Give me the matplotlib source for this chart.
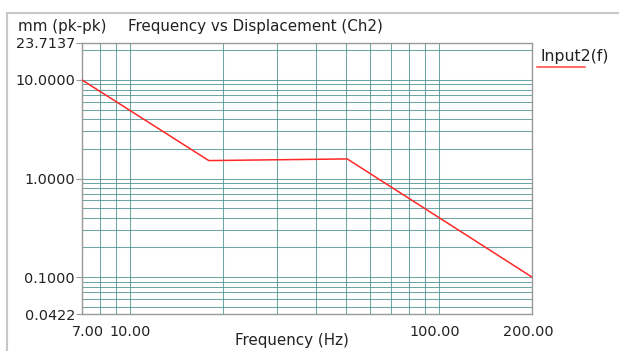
import matplotlib
matplotlib.use("Agg")
import matplotlib.pyplot as plt
from matplotlib.ticker import FixedLocator, NullFormatter, LogLocator
from matplotlib.lines import Line2D
from matplotlib.patches import Rectangle
import matplotlib.transforms as mtrans

# ---- data ----
freq_hz = [7.0, 18.0, 30.0, 50.5, 200.0]
disp_mm = [10.0, 1.52, 1.55, 1.58, 0.10]
series_name = "Input2(f)"

x_ticks = [7.0, 10.0, 100.0, 200.0]
x_tick_labels = ["7.00", "10.00", "100.00", "200.00"]
y_ticks = [0.0422, 0.1, 1.0, 10.0, 23.7137]
y_tick_labels = ["0.0422", "0.1000", "1.0000", "10.0000", "23.7137"]
x_lim = (7.0, 200.0)
y_lim = (0.0422, 23.7137)

W, H = 619, 351
fig = plt.figure(figsize=(W / 100, H / 100), dpi=100)
plt.rcParams['font.family'] = ['DejaVu Sans']
FS = 10.4
FS_T = 10.9
TXT = '#222222'

def fx(px):
    return px / W

def fy(py):
    return 1 - py / H

# outer panel border
fig.patches.append(Rectangle((fx(7), fy(360)), fx(700), fy(13) - fy(360),
                             transform=fig.transFigure, fill=False,
                             edgecolor='#c8c8c8', linewidth=1.5))

L, R, T, B = 82, 532, 43, 314
ax = fig.add_axes([fx(L), fy(B), fx(R - L), fy(T) - fy(B)])
ax.set_xscale('log')
ax.set_yscale('log')
ax.set_xlim(*x_lim)
ax.set_ylim(*y_lim)

ax.plot(freq_hz, disp_mm, color='#ff2828', linewidth=1.1, zorder=3)

ax.xaxis.set_major_locator(FixedLocator(x_ticks))
ax.xaxis.set_ticklabels(x_tick_labels)
ax.xaxis.set_minor_locator(LogLocator(base=10, subs=range(2, 10), numticks=20))
ax.xaxis.set_minor_formatter(NullFormatter())
ax.yaxis.set_major_locator(FixedLocator(y_ticks))
ax.yaxis.set_ticklabels(y_tick_labels)
ax.yaxis.set_minor_locator(LogLocator(base=10, subs=range(2, 10), numticks=20))
ax.yaxis.set_minor_formatter(NullFormatter())

gridc = '#4a8f8f'
ax.grid(which='both', color=gridc, linewidth=0.75, alpha=0.8)
ax.set_axisbelow(True)

ax.tick_params(axis='x', which='major', length=0, pad=8, labelsize=FS, labelcolor=TXT)
ax.tick_params(axis='y', which='major', length=4, width=0.8, color='#999999', pad=1,
               labelsize=FS, labelcolor=TXT)
ax.tick_params(which='minor', length=0)
for s in ax.spines.values():
    s.set_color('#9a9a9a')
    s.set_linewidth(1.0)

# shift x labels slightly as in the reference
lbls = ax.get_xticklabels()
lbls[0].set_transform(lbls[0].get_transform() + mtrans.ScaledTranslation(6 / 100, 0, fig.dpi_scale_trans))
for lb in lbls[2:]:
    lb.set_transform(lb.get_transform() + mtrans.ScaledTranslation(-4 / 100, 0, fig.dpi_scale_trans))

fig.text(fx(18), fy(27), "mm (pk-pk)", fontsize=FS_T, color=TXT, va='center', ha='left')
fig.text(fx(128), fy(27), "Frequency vs Displacement (Ch2)", fontsize=FS_T, color=TXT,
         va='center', ha='left')
fig.text(fx(291.5), fy(340), "Frequency (Hz)", fontsize=FS_T, color=TXT, va='center', ha='center')

# legend
fig.text(fx(540), fy(57), series_name, fontsize=11.3, color=TXT, va='center', ha='left')
fig.add_artist(Line2D([fx(537), fx(585)], [fy(66.5), fy(66.5)], transform=fig.transFigure,
                      color='#ff4040', linewidth=1.1))

fig.savefig("out.png", dpi=100)
